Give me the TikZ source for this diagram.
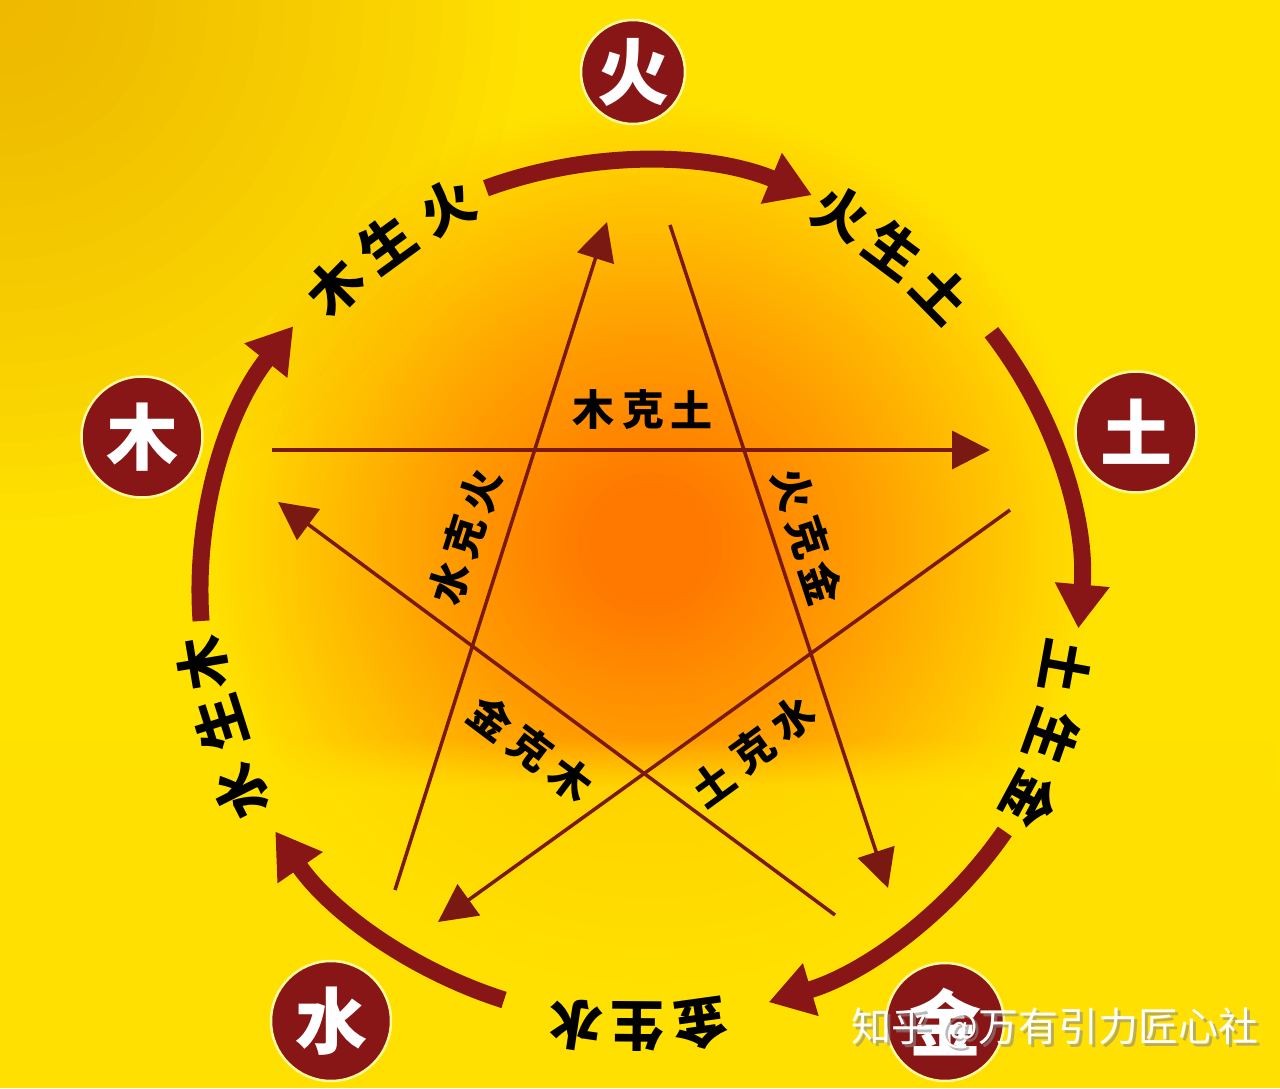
\documentclass[tikz,border=0pt]{standalone}
\usepackage{fontspec}
\newfontfamily\cjk{Noto Sans CJK SC}
\usetikzlibrary{arrows.meta,fadings,calc}
\definecolor{bgy}{HTML}{FFE200}
\definecolor{bandy}{HTML}{FFE000}
\definecolor{glowc}{HTML}{FF7800}
\definecolor{glowm}{HTML}{FFA400}
\definecolor{dred}{HTML}{891616}
\definecolor{lred}{HTML}{7A1812}
\definecolor{cornerc}{HTML}{EFA000}
\begin{document}
\begin{tikzpicture}[x=1pt,y=1pt,
  elem/.style={circle, fill=dred, draw=white!60!yellow, line width=2.5pt, minimum size=#1, inner sep=0pt, text=white, font=\cjk\bfseries\fontsize{72}{72}\selectfont},
  sheng/.style={draw=dred, line width=17pt, -{Triangle[length=44pt,width=52pt]}},
  ke/.style={draw=lred, line width=3.5pt, -{Triangle[length=38pt,width=38pt]}},
  olab/.style={font=\cjk\bfseries\fontsize{54}{54}\selectfont, text=black, inner sep=0pt},
  ilab/.style={font=\cjk\bfseries\fontsize{42}{42}\selectfont, text=black, inner sep=0pt},
  wm/.style={font=\cjk\fontsize{40}{40}\selectfont, inner sep=0pt},
]
\useasboundingbox (0,0) rectangle (1280,1088);
% background
\fill[bgy] (0,0) rectangle (1280,1088);
\coordinate (G) at (650,543);
\coordinate (K) at (0,1088);
\begin{scope}
  \clip (0,0) rectangle (1280,1088);
  \foreach \r in {480,474,...,246} {
    \pgfmathtruncatemacro\q{max(0,min(100,(450-\r)/2.1))}
    \fill[glowm!\q!bgy] (G) circle (\r);
  }
  \foreach \r in {240,234,...,6} {
    \pgfmathtruncatemacro\q{max(0,min(100,(240-\r)/1.8))}
    \fill[glowc!\q!glowm] (G) circle (\r);
  }
  \foreach \r in {520,494,...,26} {
    \fill[cornerc, opacity=0.035] (K) circle (\r);
  }
  \fill[bandy, opacity=0.8] (0,0) rectangle (1280,300);
  \fill[bandy, opacity=0.8, path fading=north] (0,300) rectangle (1280,350);
\end{scope}
\coordinate (C) at (640,497);
\coordinate (CL) at (640,498);
% ke (star) lines
\coordinate (k1s) at (272,638);  \coordinate (k1e) at (990,638);
\coordinate (k2s) at (395,198);  \coordinate (k2e) at (607,866);
\coordinate (k3s) at (670,863);  \coordinate (k3e) at (888,200);
\coordinate (k4s) at (835,173);  \coordinate (k4e) at (278,586);
\coordinate (k5s) at (1010,578); \coordinate (k5e) at (438,166);
\draw[ke] (k1s) -- (k1e);
\draw[ke] (k2s) -- (k2e);
\draw[ke] (k3s) -- (k3e);
\draw[ke] (k4s) -- (k4e);
\draw[ke] (k5s) -- (k5e);
% inner labels
\node[ilab] (i1a) at (593,678) {木};
\node[ilab] (i1b) at (643,678) {克};
\node[ilab] (i1c) at (691,678) {土};
\node[ilab, rotate=72.5] (i2a) at (450,505) {水};
\node[ilab, rotate=72.5] (i2b) at (465,551) {克};
\node[ilab, rotate=72.5] (i2c) at (481,597) {火};
\node[ilab, rotate=-71.8] (i3a) at (793,598) {火};
\node[ilab, rotate=-71.8] (i3b) at (808,551) {克};
\node[ilab, rotate=-71.8] (i3c) at (822,505) {金};
\node[ilab, rotate=-37] (i4a) at (491,370) {金};
\node[ilab, rotate=-37] (i4b) at (531,340) {克};
\node[ilab, rotate=-37] (i4c) at (571,309) {木};
\node[ilab, rotate=36] (i5a) at (713,304) {土};
\node[ilab, rotate=36] (i5b) at (753,338) {克};
\node[ilab, rotate=36] (i5c) at (793,370) {水};
% sheng arcs
\draw[sheng] (C) ++(110.5:440 and 430) arc[start angle=110.5, end angle=67, x radius=440, y radius=430];
\draw[sheng] (C) ++(37:440 and 430) arc[start angle=37, end angle=-5, x radius=440, y radius=430];
\draw[sheng] (C) ++(-34:440 and 430) arc[start angle=-34, end angle=-73, x radius=440, y radius=430];
\draw[sheng] (C) ++(-108:440 and 430) arc[start angle=-108, end angle=-146, x radius=440, y radius=430];
\draw[sheng] (C) ++(184:440 and 430) arc[start angle=184, end angle=142, x radius=440, y radius=430];
% outer labels
\foreach \t/\a/\r [count=\i] in {木/135.2/430, 生/126.1/429, 火/116.7/429,
  火/62/427, 生/53.3/425, 土/44.5/423,
  土/-10.3/433, 生/-19.6/438, 金/-28.3/443,
  金/-82.1/439, 生/-90.4/437, 水/-98.5/440,
  水/-153.2/447, 生/-162.4/441, 木/-170.5/443}
  \node[olab, rotate=\a-90] (o\i) at ($(CL)+(\a:\r)$) {\t};
% element circles
\node[elem=104pt] (huo) at (633,1016) {火};
\node[elem=121pt] (tu) at (1136,656) {土};
\node[elem=121pt] (mu) at (142,651) {木};
\node[elem=120pt] (shui) at (331,67) {水};
\node[elem=118pt] (jin) at (945,66) {金};
% watermark
\node[wm, text=black!45, opacity=0.6] (wms) at (1058,57) {知乎 @万有引力匠心社};
\node[wm, text=white] (wmt) at (1055,60) {知乎 @万有引力匠心社};
\end{tikzpicture}
\end{document}
